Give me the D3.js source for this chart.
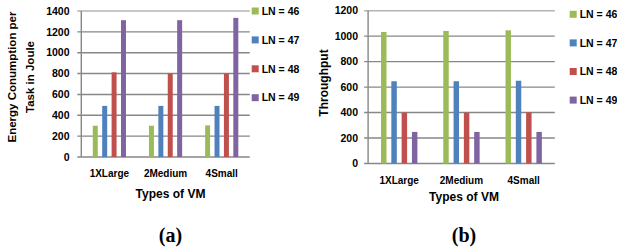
<!DOCTYPE html>
<html>
<head>
<meta charset="utf-8">
<script src="https://cdn.jsdelivr.net/npm/d3@7"></script>
<style>
    body { margin: 0; background: #fff; }
    svg text { font-family: 'Liberation Sans', Arial, sans-serif; font-weight: 700; fill: #000; }
</style>
</head>
<body>
<div id="chart"></div>
<script>
const categories = ['1XLarge', '2Medium', '4Small'];
const seriesNames = ['LN = 46', 'LN = 47', 'LN = 48', 'LN = 49'];
const seriesColors = ['#9bbb59', '#4f81bd', '#c0504d', '#8064a2'];

// energy per task (a), one array per series, in category order
const energy46 = [300, 300, 303];
const energy47 = [490, 490, 490];
const energy48 = [812, 802, 802];
const energy49 = [1312, 1312, 1334];
const energyTicks = [0, 200, 400, 600, 800, 1000, 1200, 1400];

// throughput (b)
const thr46 = [1033, 1041, 1046];
const thr47 = [646, 646, 650];
const thr48 = [400, 400, 402];
const thr49 = [248, 248, 248];
const thrTicks = [0, 200, 400, 600, 800, 1000, 1200];

const svg = d3.select('#chart')
    .append('svg')
    .attr('width', 617)
    .attr('height', 251);

function drawPanel(p) {
    const g = svg.append('g');
    const y = d3.scaleLinear().domain([0, d3.max(p.ticks)]).range([p.bottom, p.top]);
    const x = d3.scaleBand().domain(categories).range([p.left, p.right]);
    const pitch = p.pitch;
    const inner = d3.scaleBand()
        .domain(seriesNames)
        .range([0, 4 * pitch])
        .paddingInner(0.47)
        .paddingOuter(0.235);

    // gridlines
    g.selectAll('.grid')
        .data(p.ticks)
        .enter()
        .append('line')
        .attr('x1', p.left - 4)
        .attr('x2', p.right)
        .attr('y1', (d) => y(d))
        .attr('y2', (d) => y(d))
        .style('stroke', (d, i) => (i === p.ticks.length - 1 ? '#b4b4b4' : '#878787'))
        .style('stroke-width', 1.4);

    // axis line
    g.append('line')
        .attr('x1', p.left)
        .attr('x2', p.left)
        .attr('y1', p.top)
        .attr('y2', p.bottom)
        .style('stroke', '#878787')
        .style('stroke-width', 1.4);

    // y labels
    g.selectAll('.ylab')
        .data(p.ticks)
        .enter()
        .append('text')
        .attr('x', p.labelRight)
        .attr('y', (d) => y(d))
        .attr('dy', '0.36em')
        .attr('text-anchor', 'end')
        .style('font-size', '10.5px')
        .text((d) => d);

    // bars
    p.series.forEach((vals, si) => {
        g.selectAll('.bar' + si)
            .data(vals)
            .enter()
            .append('rect')
            .attr('x', (d, i) => x(categories[i]) + x.bandwidth() / 2 - 2 * pitch + inner(seriesNames[si]))
            .attr('y', (d) => y(d))
            .attr('width', inner.bandwidth())
            .attr('height', (d) => p.bottom - y(d))
            .style('fill', seriesColors[si]);
    });

    // x labels
    g.selectAll('.xlab')
        .data(categories)
        .enter()
        .append('text')
        .attr('x', (d) => x(d) + x.bandwidth() / 2)
        .attr('y', p.xLabelY)
        .attr('dy', '0.36em')
        .attr('text-anchor', 'middle')
        .style('font-size', '10px')
        .text((d) => d);

    g.append('text')
        .attr('x', p.xTitleX)
        .attr('y', p.xTitleY)
        .attr('dy', '0.36em')
        .attr('text-anchor', 'middle')
        .style('font-size', '12px')
        .text('Types of VM');

    // y title (one or two lines)
    p.yTitle.forEach((line, i) => {
        g.append('text')
            .attr('transform', `translate(${p.yTitleX[i]}, ${p.yTitleY}) rotate(-90)`)
            .attr('text-anchor', 'middle')
            .attr('dy', '0.36em')
            .style('font-size', p.yTitleSize)
            .text(line);
    });

    // legend
    const leg = g.selectAll('.leg')
        .data(seriesNames)
        .enter()
        .append('g')
        .attr('transform', (d, i) => `translate(${p.legX}, ${p.legY + i * p.legStep})`);
    leg.append('rect')
        .attr('x', 0)
        .attr('y', -3.5)
        .attr('width', 7)
        .attr('height', 7)
        .style('fill', (d, i) => seriesColors[i]);
    leg.append('text')
        .attr('x', 10)
        .attr('y', 0)
        .attr('dy', '0.36em')
        .style('font-size', '10.5px')
        .text((d) => d);

    // panel caption
    g.append('text')
        .attr('x', p.xTitleX)
        .attr('y', 235)
        .attr('dy', '0.36em')
        .attr('text-anchor', 'middle')
        .style('font-family', "'Liberation Serif', 'Times New Roman', serif")
        .style('font-size', '20px')
        .text(p.caption);
}

drawPanel({
    series: [energy46, energy47, energy48, energy49],
    ticks: energyTicks,
    left: 81.3, right: 249.8, top: 11, bottom: 157,
    pitch: 9.4,
    labelRight: 69.5,
    xLabelY: 173.5,
    xTitleX: 170.5, xTitleY: 194,
    yTitle: ['Energy Conumption per', 'Task in Joule'],
    yTitleX: [12, 30], yTitleY: 77, yTitleSize: '11.5px',
    legX: 251.7, legY: 11, legStep: 28.9,
    caption: '(a)',
});

drawPanel({
    series: [thr46, thr47, thr48, thr49],
    ticks: thrTicks,
    left: 368.1, right: 554.8, top: 10.7, bottom: 163.5,
    pitch: 10.3,
    labelRight: 358,
    xLabelY: 180,
    xTitleX: 464, xTitleY: 196.5,
    yTitle: ['Throughput'],
    yTitleX: [324], yTitleY: 83, yTitleSize: '12px',
    legX: 569.7, legY: 14.3, legStep: 28.6,
    caption: '(b)',
});
</script>
</body>
</html>
